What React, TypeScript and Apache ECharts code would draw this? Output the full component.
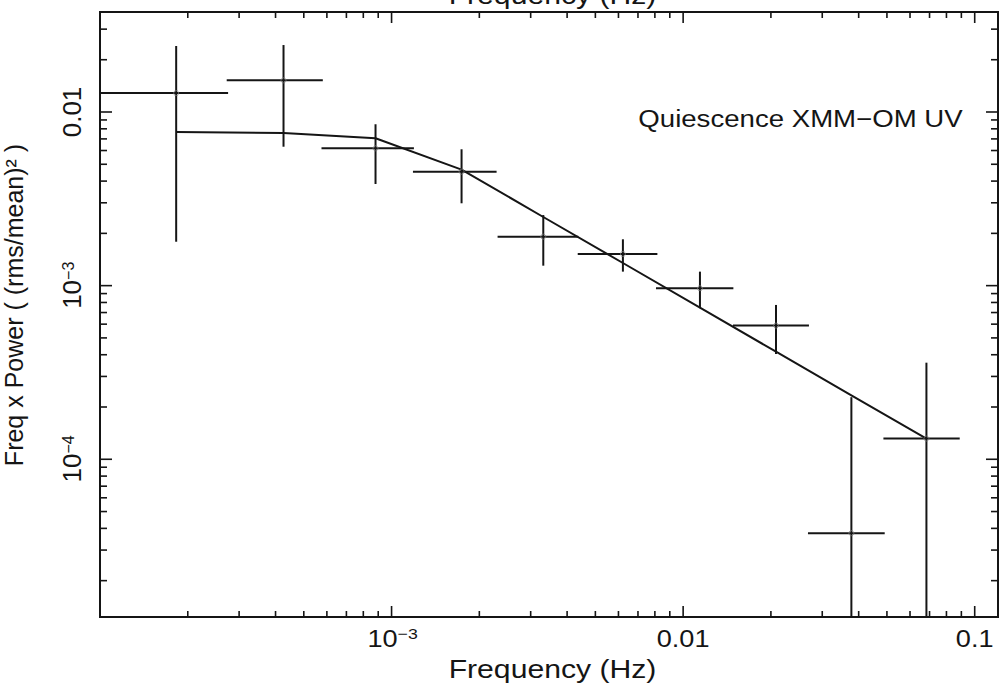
import React, { useEffect, useRef } from "react";
import * as echarts from "echarts";

// ---- data ----
const freq = [1.825e-4, 4.26e-4, 8.81e-4, 1.738e-3, 3.314e-3, 6.215e-3, 0.01142, 0.02082, 0.03776, 0.0683];
const freqLo = [0.9e-4, 2.72e-4, 5.75e-4, 1.184e-3, 2.31e-3, 4.35e-3, 8.07e-3, 0.01482, 0.0268, 0.04863];
const freqHi = [2.75e-4, 5.81e-4, 1.193e-3, 2.292e-3, 4.37e-3, 8.16e-3, 0.01487, 0.02701, 0.04913, 0.08884];
const power = [0.01285, 0.01522, 6.18e-3, 4.53e-3, 1.914e-3, 1.522e-3, 9.66e-4, 5.885e-4, 3.754e-5, 1.316e-4];
const powerLo = [1.79e-3, 6.31e-3, 3.85e-3, 2.98e-3, 1.303e-3, 1.204e-3, 7.41e-4, 4.04e-4, 0, 0];
const powerHi = [0.024, 0.0243, 8.5e-3, 6.1e-3, 2.55e-3, 1.849e-3, 1.204e-3, 7.74e-4, 2.278e-4, 3.6e-4];
const model = [7.67e-3, 7.58e-3, 7.06e-3, 4.66e-3, 2.485e-3, 1.35e-3, 7.46e-4, 4.165e-4, 2.337e-4, 1.314e-4];

const xLabelValues = [1e-3, 0.01, 0.1];
const xLabelMain = ["10", "0.01", "0.1"];
const xLabelSup = ["\u22123", "", ""];
const yLabelValues = [1e-4, 1e-3, 0.01];
const yLabelMain = ["10", "10", "0.01"];
const yLabelSup = ["\u22124", "\u22123", ""];

const xTitle = "Frequency (Hz)";
const yTitle = "Freq x Power ( (rms/mean)\u00b2 )";
const annotation = "Quiescence XMM\u2212OM UV";

const X_MIN = 1e-4;
const X_MAX = 0.1202;
const Y_MIN = 1.235e-5;
const Y_MAX = 0.03766;

const INK = "#151515";
const FONT = "'Liberation Sans', Arial, Helvetica, sans-serif";

function logTicks(min: number, max: number): number[][] {
  const out: number[][] = [];
  const e0 = Math.floor(Math.log10(min));
  const e1 = Math.ceil(Math.log10(max));
  for (let e = e0; e <= e1; e++) {
    for (let m = 1; m <= 9; m++) {
      const v = Number((m * Math.pow(10, e)).toPrecision(3));
      if (v > min * 1.0001 && v < max * 0.9999) out.push([v, m === 1 ? 1 : 0]);
    }
  }
  return out;
}

function txt(x: number, y: number, text: string, size: number, align: string, valign: string, extra: any = {}) {
  return {
    type: "text",
    x,
    y,
    ...extra,
    style: {
      text,
      fontSize: size,
      fontFamily: FONT,
      fill: INK,
      align,
      textAlign: align,
      verticalAlign: valign,
      textVerticalAlign: valign,
    },
  };
}

export default function App() {
  const ref = useRef<HTMLDivElement>(null);

  useEffect(() => {
    if (!ref.current) return;
    const chart = echarts.init(ref.current, undefined, { renderer: "svg" });

    const xTicks = logTicks(X_MIN, X_MAX);
    const yTicks = logTicks(Y_MIN, Y_MAX);

    const errData = freq.map((f, i) => [f, power[i], freqLo[i], freqHi[i], powerLo[i], powerHi[i]]);

    const option: any = {
      animation: false,
      backgroundColor: "#ffffff",
      grid: {
        left: 100,
        right: 8,
        top: 12,
        bottom: 68,
        show: true,
        borderColor: INK,
        borderWidth: 2,
        backgroundColor: "transparent",
      },
      xAxis: {
        type: "log",
        logBase: 10,
        min: X_MIN,
        max: X_MAX,
        axisLine: { show: false },
        axisTick: { show: false },
        axisLabel: { show: false },
        splitLine: { show: false },
      },
      yAxis: {
        type: "log",
        logBase: 10,
        min: Y_MIN,
        max: Y_MAX,
        axisLine: { show: false },
        axisTick: { show: false },
        axisLabel: { show: false },
        splitLine: { show: false },
      },
      graphic: [
        txt(552.5, 669.6, xTitle, 26, "center", "middle", { scaleX: 1.16 }),
        txt(552.5, -4.6, xTitle, 26, "center", "middle", { scaleX: 1.16 }),
        txt(14.2, 305, yTitle, 25, "center", "middle", { rotation: Math.PI / 2 }),
        txt(800.5, 119, annotation, 24, "center", "middle", { scaleX: 1.15 }),
      ],
      series: [
        // x-axis ticks (bottom + top)
        {
          type: "custom",
          silent: true,
          data: xTicks.map(([v, maj]) => [v, 1e-3, maj]),
          renderItem: (params: any, api: any) => {
            const cs = params.coordSys;
            const px = api.coord([api.value(0), 1e-3])[0];
            const len = api.value(2) ? 11 : 6;
            const b = cs.y + cs.height;
            const st = { stroke: INK, lineWidth: 1.6 };
            return {
              type: "group",
              children: [
                { type: "line", shape: { x1: px, y1: b, x2: px, y2: b - len }, style: st },
                { type: "line", shape: { x1: px, y1: cs.y, x2: px, y2: cs.y + len }, style: st },
              ],
            };
          },
        },
        // y-axis ticks (left + right)
        {
          type: "custom",
          silent: true,
          data: yTicks.map(([v, maj]) => [1e-3, v, maj]),
          renderItem: (params: any, api: any) => {
            const cs = params.coordSys;
            const py = api.coord([1e-3, api.value(1)])[1];
            const len = api.value(2) ? 12 : 7;
            const r = cs.x + cs.width;
            const st = { stroke: INK, lineWidth: 1.6 };
            return {
              type: "group",
              children: [
                { type: "line", shape: { x1: cs.x, y1: py, x2: cs.x + len, y2: py }, style: st },
                { type: "line", shape: { x1: r, y1: py, x2: r - len, y2: py }, style: st },
              ],
            };
          },
        },
        // x tick labels
        {
          type: "custom",
          silent: true,
          data: xLabelValues.map((v) => [v, 1e-3]),
          renderItem: (params: any, api: any) => {
            const i = params.dataIndex;
            const cs = params.coordSys;
            const px = api.coord([api.value(0), 1e-3])[0];
            const base = cs.y + cs.height;
            const main = xLabelMain[i];
            const sup = xLabelSup[i];
            if (sup) {
              const j = px + 6;
              return {
                type: "group",
                children: [
                  txt(j, base + 22, main, 23, "right", "middle", { scaleX: 1.18 }),
                  txt(j, base + 17, sup, 15, "left", "middle", { scaleX: 1.18 }),
                ],
              };
            }
            return txt(px, base + 22, main, 23, "center", "middle", { scaleX: 1.18 });
          },
        },
        // y tick labels (rotated)
        {
          type: "custom",
          silent: true,
          data: yLabelValues.map((v) => [1e-3, v]),
          renderItem: (params: any, api: any) => {
            const i = params.dataIndex;
            const cs = params.coordSys;
            const py = api.coord([1e-3, api.value(1)])[1];
            const main = yLabelMain[i];
            const sup = yLabelSup[i];
            const cx = cs.x - 28;
            if (sup) {
              const j = py - 5.7;
              return {
                type: "group",
                children: [
                  txt(cx, j, main, 26, "right", "middle", { rotation: Math.PI / 2 }),
                  txt(cx - 3.8, j, sup, 16, "left", "middle", { rotation: Math.PI / 2 }),
                ],
              };
            }
            return txt(cx, py, main, 26, "center", "middle", { rotation: Math.PI / 2 });
          },
        },
        // model
        {
          type: "line",
          silent: true,
          data: freq.map((f, i) => [f, model[i]]),
          showSymbol: false,
          symbol: "none",
          lineStyle: { color: INK, width: 2 },
          z: 3,
        },
        // error bars
        {
          type: "custom",
          silent: true,
          dimensions: ["f", "p", "fLo", "fHi", "pLo", "pHi"],
          encode: { x: 0, y: 1 },
          data: errData,
          renderItem: (params: any, api: any) => {
            const cs = params.coordSys;
            const f = api.value(0);
            const p = api.value(1);
            const c = api.coord([f, p]);
            const clampX = (v: number) => Math.max(cs.x, Math.min(cs.x + cs.width, v));
            const clampY = (v: number) => Math.max(cs.y, Math.min(cs.y + cs.height, v));
            const xl = clampX(api.coord([api.value(2), p])[0]);
            const xh = clampX(api.coord([api.value(3), p])[0]);
            const pLo = api.value(4);
            const yb = pLo > 0 ? clampY(api.coord([f, pLo])[1]) : cs.y + cs.height;
            const yt = clampY(api.coord([f, api.value(5)])[1]);
            const st = { stroke: INK, lineWidth: 2 };
            return {
              type: "group",
              children: [
                { type: "line", shape: { x1: xl, y1: c[1], x2: xh, y2: c[1] }, style: st },
                { type: "line", shape: { x1: c[0], y1: yt, x2: c[0], y2: yb }, style: st },
              ],
            };
          },
          z: 4,
        },
        // point markers
        {
          type: "scatter",
          silent: true,
          data: freq.map((f, i) => [f, power[i]]),
          symbol: "circle",
          symbolSize: 5,
          itemStyle: { color: "rgba(0,0,0,0)", borderColor: "#777", borderWidth: 1 },
          z: 5,
        },
      ],
    };

    chart.setOption(option);
    return () => chart.dispose();
  }, []);

  return (
    <div
      ref={ref}
      style={{ position: "absolute", left: 0, top: 0, width: "1006px", height: "685px", background: "#fff" }}
    />
  );
}
